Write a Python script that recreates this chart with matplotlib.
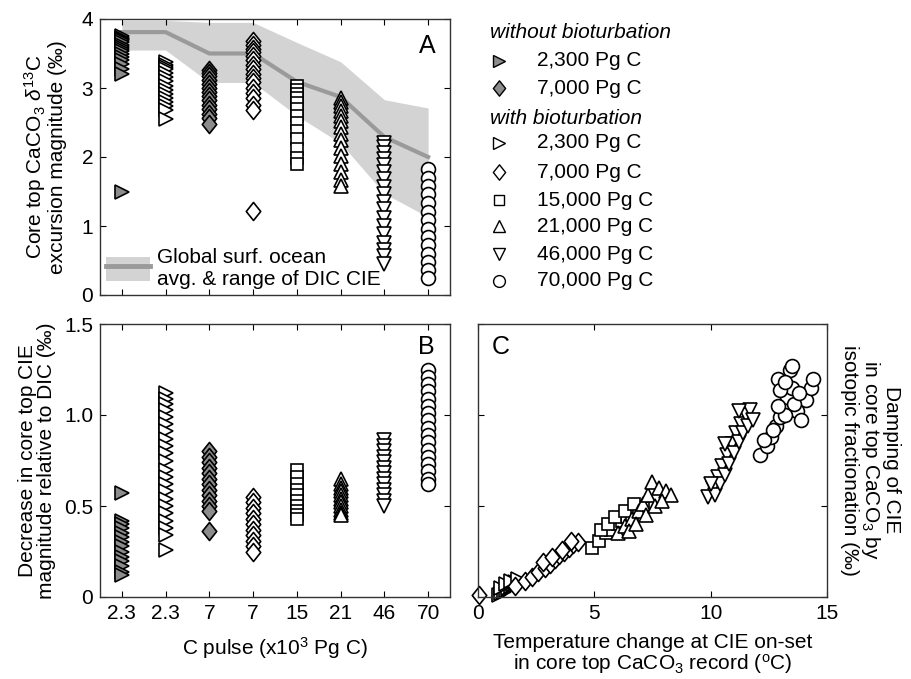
import matplotlib.pyplot as plt
import numpy as np
from matplotlib.path import Path
from matplotlib.patches import Patch
from matplotlib.lines import Line2D

plt.rcParams['font.family'] = ['Liberation Sans', 'DejaVu Sans']
plt.rcParams['mathtext.fontset'] = 'custom'
plt.rcParams['mathtext.rm'] = 'Liberation Sans'
plt.rcParams['mathtext.it'] = 'Liberation Sans:italic'
plt.rcParams['font.size'] = 15

# C pulse scenarios (x10^3 Pg C)
pulses = ['2.3', '2.3', '7', '7', '15', '21', '46', '70']
pos = np.arange(1, 9)

# global surface ocean DIC CIE: mean and range
dic_mean = [3.81, 3.81, 3.50, 3.50, 3.09, 2.87, 2.29, 2.00]
dic_lo = [3.55, 3.55, 3.08, 3.08, 2.60, 2.20, 1.47, 1.13]
dic_hi = [3.98, 3.98, 3.95, 3.95, 3.66, 3.38, 2.83, 2.71]

# panel A: core top CaCO3 d13C excursion magnitude
a_23_nb = [3.76, 3.73, 3.71, 3.69, 3.66, 3.63, 3.60, 3.57, 3.53, 3.49, 3.45, 3.40, 3.35, 3.28, 3.21, 1.50]
a_23_b = [3.38, 3.34, 3.31, 3.27, 3.22, 3.16, 3.10, 3.03, 2.97, 2.92, 2.86, 2.80, 2.74, 2.68, 2.55]
a_7_nb = [3.26, 3.22, 3.17, 3.12, 3.06, 3.00, 2.94, 2.88, 2.82, 2.76, 2.70, 2.63, 2.56, 2.48]
a_7_b = [3.68, 3.62, 3.57, 3.52, 3.46, 3.40, 3.33, 3.27, 3.20, 3.14, 3.08, 3.00, 2.93, 2.85, 2.76, 2.68, 1.22]
a_15 = [3.03, 2.97, 2.92, 2.86, 2.78, 2.70, 2.60, 2.50, 2.38, 2.26, 2.12, 1.98, 1.90]
a_21 = [2.85, 2.80, 2.74, 2.67, 2.60, 2.52, 2.43, 2.34, 2.24, 2.13, 2.02, 1.90, 1.78, 1.67, 1.58]
a_46 = [2.20, 2.14, 2.06, 1.97, 1.88, 1.78, 1.68, 1.57, 1.46, 1.35, 1.24, 1.12, 1.00, 0.88, 0.76, 0.65, 0.56, 0.45]
a_70 = [1.82, 1.70, 1.58, 1.46, 1.34, 1.20, 1.08, 0.96, 0.84, 0.72, 0.60, 0.48, 0.36, 0.25]

# panel B: decrease relative to DIC
b_23_nb = [0.57, 0.42, 0.40, 0.38, 0.35, 0.33, 0.30, 0.28, 0.25, 0.22, 0.20, 0.17, 0.14, 0.12]
b_23_b = [1.12, 1.09, 1.06, 1.03, 0.99, 0.95, 0.91, 0.87, 0.83, 0.79, 0.75, 0.70, 0.66, 0.62,
          0.58, 0.54, 0.50, 0.46, 0.42, 0.38, 0.34, 0.26]
b_7_nb = [0.80, 0.77, 0.74, 0.71, 0.68, 0.65, 0.62, 0.59, 0.56, 0.53, 0.50, 0.47, 0.36]
b_7_b = [0.55, 0.52, 0.49, 0.46, 0.43, 0.40, 0.37, 0.34, 0.31, 0.28, 0.25]
b_15 = [0.70, 0.66, 0.62, 0.59, 0.56, 0.53, 0.50, 0.47, 0.45, 0.43]
b_21 = [0.65, 0.62, 0.60, 0.58, 0.56, 0.54, 0.52, 0.50, 0.48, 0.46, 0.45]
b_46 = [0.86, 0.83, 0.80, 0.77, 0.74, 0.71, 0.68, 0.65, 0.62, 0.59, 0.56, 0.53, 0.50]
b_70 = [1.25, 1.21, 1.17, 1.13, 1.09, 1.05, 1.01, 0.97, 0.93, 0.89, 0.85, 0.81, 0.77, 0.73, 0.69, 0.65, 0.62]

# panel C: warming at CIE onset vs damping
c_23_t = [0.9, 1.0, 1.1, 1.2, 1.3, 1.4, 1.5, 1.6, 1.0, 1.2, 1.4, 1.7]
c_23_d = [0.01, 0.02, 0.03, 0.04, 0.05, 0.06, 0.07, 0.08, 0.05, 0.07, 0.09, 0.10]
c_7_t = [0.05, 1.6, 2.0, 2.3, 2.6, 2.9, 3.1, 3.3, 3.5, 3.7, 3.9, 4.1, 4.3, 2.8, 3.2, 3.6, 4.0]
c_7_d = [0.01, 0.06, 0.09, 0.11, 0.14, 0.16, 0.18, 0.21, 0.23, 0.25, 0.27, 0.29, 0.30,
         0.19, 0.22, 0.26, 0.31]
c_15_t = [4.9, 5.2, 5.5, 5.7, 6.0, 6.2, 6.4, 6.6, 6.9, 7.1, 5.3, 5.6, 5.9, 6.3, 6.7]
c_15_d = [0.27, 0.31, 0.35, 0.37, 0.40, 0.42, 0.44, 0.45, 0.47, 0.49, 0.37, 0.40, 0.44, 0.47, 0.51]
c_21_t = [6.0, 6.3, 6.6, 6.9, 7.1, 7.3, 7.5, 7.8, 8.1, 8.3, 6.5, 6.8, 7.2, 7.6, 7.9]
c_21_d = [0.35, 0.39, 0.43, 0.47, 0.51, 0.56, 0.63, 0.60, 0.58, 0.56, 0.36, 0.40, 0.45, 0.50, 0.53]
c_46_t = [9.9, 10.1, 10.3, 10.5, 10.7, 10.9, 11.1, 11.3, 11.5, 11.7,
          10.2, 10.4, 10.6, 10.8, 11.0, 11.2, 11.4, 11.6, 11.8, 10.0, 10.6, 11.2]
c_46_d = [0.55, 0.60, 0.66, 0.72, 0.78, 0.84, 0.90, 0.95, 1.00, 1.03,
          0.56, 0.62, 0.67, 0.73, 0.79, 0.85, 0.90, 0.94, 0.97, 0.62, 0.84, 1.02]
c_70_t = [12.1, 12.4, 12.6, 12.8, 13.0, 13.1, 13.3, 13.5, 13.7, 13.9, 14.1, 14.3, 13.4, 12.9,
          12.3, 12.7, 13.2, 13.6, 13.8, 14.4, 13.0, 13.5, 12.9, 13.2]
c_70_d = [0.78, 0.83, 0.88, 0.94, 0.99, 1.05, 1.10, 1.15, 1.02, 0.97, 1.08, 1.15, 1.25, 1.20,
          0.86, 0.92, 1.00, 1.06, 1.12, 1.20, 1.14, 1.27, 1.05, 1.18]

diamond = Path([(0, 1), (0.8, 0), (0, -1), (-0.8, 0), (0, 1)], closed=True)
gray = '#8c8c8c'

# (marker, size, face) for each scenario in panel order
styles = [('>', 10, gray), ('>', 10, 'white'), (diamond, 13, gray), (diamond, 13, 'white'),
          ('s', 8.5, 'white'), ('^', 10, 'white'), ('v', 10, 'white'), ('o', 10, 'white')]


def column(ax, x, vals, st):
    m, ms, fc = st
    ax.plot([x] * len(vals), vals, ls='none', marker=m, ms=ms, mfc=fc, mec='black', mew=1.2)


def style_axes(ax):
    ax.tick_params(direction='in', top=True, right=True, length=4, width=0.8,
                   labelsize=15, pad=5)
    for s in ax.spines.values():
        s.set_linewidth(1.0)
        s.set_color('#333333')


fig = plt.figure(figsize=(9.12, 6.79), dpi=100)

axA = fig.add_axes([100 / 912, 1 - 295 / 679, 350 / 912, 276 / 679])
axB = fig.add_axes([100 / 912, 1 - 597 / 679, 350 / 912, 273 / 679])
axC = fig.add_axes([478 / 912, 1 - 597 / 679, 349 / 912, 273 / 679])

# ---- A
axA.fill_between(pos, dic_lo, dic_hi, color='#d3d3d3', lw=0)
axA.plot(pos, dic_mean, color='#9a9a9a', lw=3)
for x, vals, st in zip(pos, [a_23_nb, a_23_b, a_7_nb, a_7_b, a_15, a_21, a_46, a_70], styles):
    column(axA, x, vals, st)
axA.set_xlim(0.5, 8.5)
axA.set_ylim(0, 4)
axA.set_xticks(pos)
axA.set_xticklabels([])
axA.set_yticks([0, 1, 2, 3, 4])
axA.set_ylabel('Core top CaCO$_3$ $\\delta^{13}$C\nexcursion magnitude (‰)', labelpad=10,
               linespacing=1.0)
axA.text(0.96, 0.945, 'A', transform=axA.transAxes, ha='right', va='top', fontsize=18)
h_band = (Patch(color='#d3d3d3', lw=0), Line2D([], [], color='#9a9a9a', lw=3.5))
axA.legend([h_band], ['Global surf. ocean\navg. & range of DIC CIE'], loc='lower left',
           frameon=False, handlelength=2.1, handleheight=1.4, handletextpad=0.35,
           borderaxespad=0.1, borderpad=0.2, fontsize=15, labelspacing=0.2)
style_axes(axA)

# ---- B
for x, vals, st in zip(pos, [b_23_nb, b_23_b, b_7_nb, b_7_b, b_15, b_21, b_46, b_70], styles):
    column(axB, x, vals, st)
axB.set_xlim(0.5, 8.5)
axB.set_ylim(0, 1.5)
axB.set_xticks(pos)
axB.set_xticklabels(pulses)
axB.set_yticks([0, 0.5, 1.0, 1.5])
axB.set_yticklabels(['0', '0.5', '1.0', '1.5'])
axB.set_ylabel('Decrease in core top CIE\nmagnitude relative to DIC (‰)', labelpad=6,
               linespacing=1.0)
axB.set_xlabel('C pulse (x10$^3$ Pg C)', labelpad=9)
axB.text(0.955, 0.96, 'B', transform=axB.transAxes, ha='right', va='top', fontsize=18)
style_axes(axB)

# ---- C
c_groups = [(c_23_t, c_23_d, styles[1]), (c_7_t, c_7_d, styles[3]), (c_15_t, c_15_d, styles[4]),
            (c_21_t, c_21_d, styles[5]), (c_46_t, c_46_d, styles[6]), (c_70_t, c_70_d, styles[7])]
for t, d, (m, ms, fc) in c_groups:
    axC.plot(t, d, ls='none', marker=m, ms=ms, mfc=fc, mec='black', mew=1.2, clip_on=False)
axC.set_xlim(0, 15)
axC.set_ylim(0, 1.5)
axC.set_xticks([0, 5, 10, 15])
axC.set_yticks([0, 0.5, 1.0, 1.5])
axC.set_yticklabels([])
axC.set_xlabel('Temperature change at CIE on-set\nin core top CaCO$_3$ record ($^{\\mathrm{o}}$C)',
               labelpad=7, linespacing=1.0)
axC.text(0.04, 0.96, 'C', transform=axC.transAxes, ha='left', va='top', fontsize=18)
style_axes(axC)
fig.text(871 / 912, 1 - 460 / 679,
         'Damping of CIE\nin core top CaCO$_3$ by\nisotopic fractionation (‰)',
         rotation=270, ha='center', va='center', multialignment='center', linespacing=1.0)

# ---- marker key
lax = fig.add_axes([490 / 912, 1 - 295 / 679, 220 / 912, 276 / 679])
lax.set_xlim(0, 220)
lax.set_ylim(276, 0)
lax.axis('off')
key_labels = ['2,300 Pg C', '7,000 Pg C', '2,300 Pg C', '7,000 Pg C',
              '15,000 Pg C', '21,000 Pg C', '46,000 Pg C', '70,000 Pg C']
key_styles = [styles[0], styles[2], styles[1], styles[3], styles[4], styles[5], styles[6], styles[7]]
key_y = [42, 69, 124, 153, 181, 207, 235, 262]
lax.text(0, 14, 'without bioturbation', style='italic', va='center')
lax.text(0, 99, 'with bioturbation', style='italic', va='center')
for y, lab, (m, ms, fc) in zip(key_y, key_labels, key_styles):
    lax.plot([9], [y], ls='none', marker=m, ms=ms * 0.85, mfc=fc, mec='black', mew=1.0)
    lax.text(47, y, lab, va='center')

plt.savefig('out.png', dpi=100)
